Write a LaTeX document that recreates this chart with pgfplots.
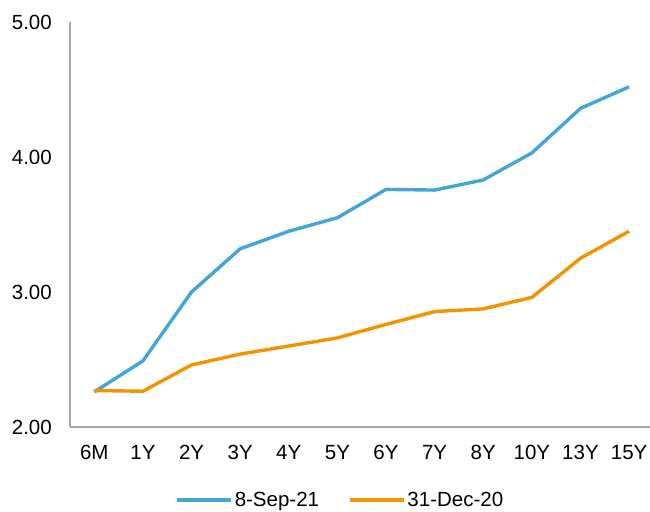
\documentclass[border=0pt]{standalone}
\usepackage{pgfplots}
\pgfplotsset{compat=1.18}
\usepackage{fontspec}
\setmainfont{Liberation Sans}

\definecolor{sepblue}{RGB}{66,166,217}
\definecolor{decorange}{RGB}{244,146,0}
\definecolor{axgray}{RGB}{166,166,166}

\begin{document}
\begin{tikzpicture}
  \begin{axis}[
      name=ax,
      scale only axis,
      width=580pt, height=405pt,
      xmin=-0.5, xmax=11.43,
      ymin=2, ymax=5,
      xtick={0,...,11},
      xticklabels={6M,1Y,2Y,3Y,4Y,5Y,6Y,7Y,8Y,10Y,13Y,15Y},
      ytick={2,3,4,5},
      axis x line=bottom, axis y line=left,
      axis line style={draw=axgray, line width=1.5pt, -},
      major tick length=0pt,
      tick style={draw=none},
      font=\fontsize{20.5}{24}\selectfont,
      /pgf/number format/assume math mode=true,
      /pgf/number format/fixed,
      /pgf/number format/fixed zerofill,
      /pgf/number format/precision=2,
      y tick label style={inner sep=0pt, xshift=-18pt},
      x tick label style={inner sep=0pt, yshift=-18pt},
      legend style={
        at={(axis description cs:0.466,-0.18)}, anchor=center,
        draw=none, fill=none, font=\fontsize{20.5}{24}\selectfont,
        legend columns=2,
        /tikz/every even column/.append style={column sep=27pt},
      },
      legend image code/.code={\draw[#1] (0pt,0pt) -- (54pt,0pt);},
      every axis plot/.append style={line width=3.4pt, line join=round},
    ]
    \addplot[sepblue, mark=none] coordinates {
      (0,2.26) (1,2.49) (2,3.00) (3,3.32) (4,3.45) (5,3.55)
      (6,3.76) (7,3.755) (8,3.83) (9,4.03) (10,4.36) (11,4.52)
    };
    \addplot[decorange, mark=none] coordinates {
      (0,2.27) (1,2.265) (2,2.46) (3,2.54) (4,2.60) (5,2.66)
      (6,2.76) (7,2.855) (8,2.875) (9,2.96) (10,3.25) (11,3.45)
    };
    \legend{8-Sep-21, 31-Dec-20}
  \end{axis}
  \pgfresetboundingbox
  \path[use as bounding box] ([xshift=-70pt,yshift=-84pt]ax.south west) rectangle ([yshift=22pt]ax.north east);
\end{tikzpicture}
\end{document}
